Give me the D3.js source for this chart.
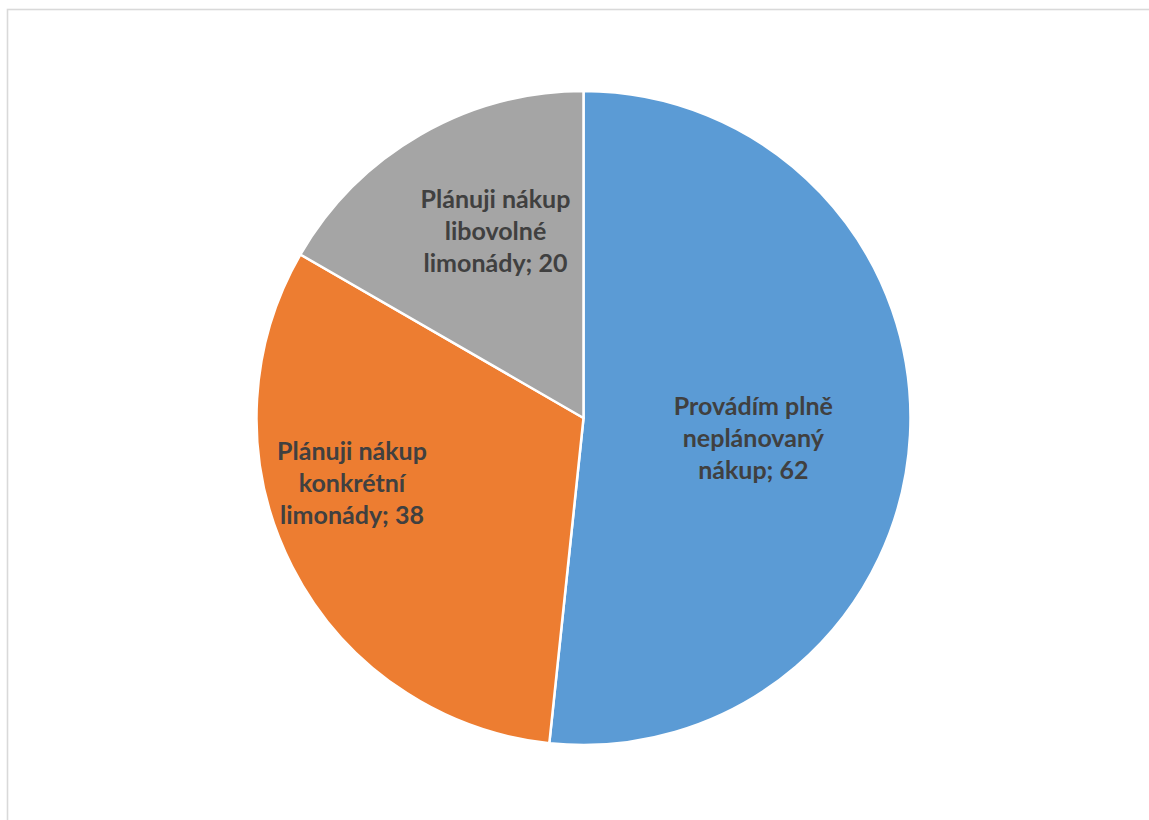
<!DOCTYPE html>
<html>
<head>
<meta charset="utf-8">
<script src="https://cdn.jsdelivr.net/npm/d3@7"></script>
<style>
  html, body { margin: 0; padding: 0; background: #ffffff; overflow: hidden; }
  svg { display: block; }
  .slice-label { font-family: Lato, "Open Sans", sans-serif; font-weight: bold; fill: #404040; }
</style>
</head>
<body>
<div class="home"></div>
<script>
// Pie chart of planned / unplanned lemonade purchases

// Data
var categories = [
    ["Provádím plně", "neplánovaný", "nákup"],
    ["Plánuji nákup", "konkrétní", "limonády"],
    ["Plánuji nákup", "libovolné", "limonády"]
];
var values = [62, 38, 20];
var colors = ["#5B9BD5", "#ED7D31", "#A5A5A5"];

// Layout
var width = 1149,
    height = 820;
var cx = 583.5,
    cy = 418,
    radius = 327;
var lineHeight = 32;
// nudges from the arc centroid (Excel "best fit" placement)
var labelNudge = [[0, 11], [-80, -12], [-3, -40]];

var svg = d3.select(".home").append("svg")
    .attr("width", width)
    .attr("height", height);

// chart area border (runs off the right and bottom edges)
svg.append("rect")
    .attr("x", 7.5)
    .attr("y", 9.5)
    .attr("width", width + 20)
    .attr("height", height + 20)
    .style("fill", "none")
    .style("stroke", "#d9d9d9")
    .style("stroke-width", 1.6);

var pie = d3.pie()
    .sort(null)
    .value(function (d) { return d; });

var arc = d3.arc()
    .innerRadius(0)
    .outerRadius(radius);

var labelArc = d3.arc()
    .innerRadius(radius * 0.52)
    .outerRadius(radius * 0.52);

var g = svg.append("g")
    .attr("transform", "translate(" + cx + "," + cy + ")");

var arcs = pie(values);

g.selectAll(".slice")
    .data(arcs)
    .enter().append("path")
    .attr("class", "slice")
    .attr("d", arc)
    .style("fill", function (d, i) { return colors[i]; })
    .style("stroke", "#ffffff")
    .style("stroke-width", 2.5)
    .style("stroke-linejoin", "round");

// labels: category lines, last one gets "; value"
var labels = g.selectAll(".slice-label")
    .data(arcs)
    .enter().append("text")
    .attr("class", "slice-label")
    .attr("text-anchor", "middle")
    .style("font-size", "25px")
    .attr("transform", function (d, i) {
        var c = labelArc.centroid(d);
        return "translate(" + (c[0] + labelNudge[i][0]) + "," + (c[1] + labelNudge[i][1]) + ")";
    });

labels.each(function (d, i) {
    var lines = categories[i].slice();
    lines[lines.length - 1] = lines[lines.length - 1] + "; " + values[i];
    var t = d3.select(this);
    lines.forEach(function (ln, k) {
        t.append("tspan")
            .attr("x", 0)
            .attr("y", (k - (lines.length - 1) / 2) * lineHeight + 9)
            .text(ln);
    });
});
</script>
</body>
</html>
